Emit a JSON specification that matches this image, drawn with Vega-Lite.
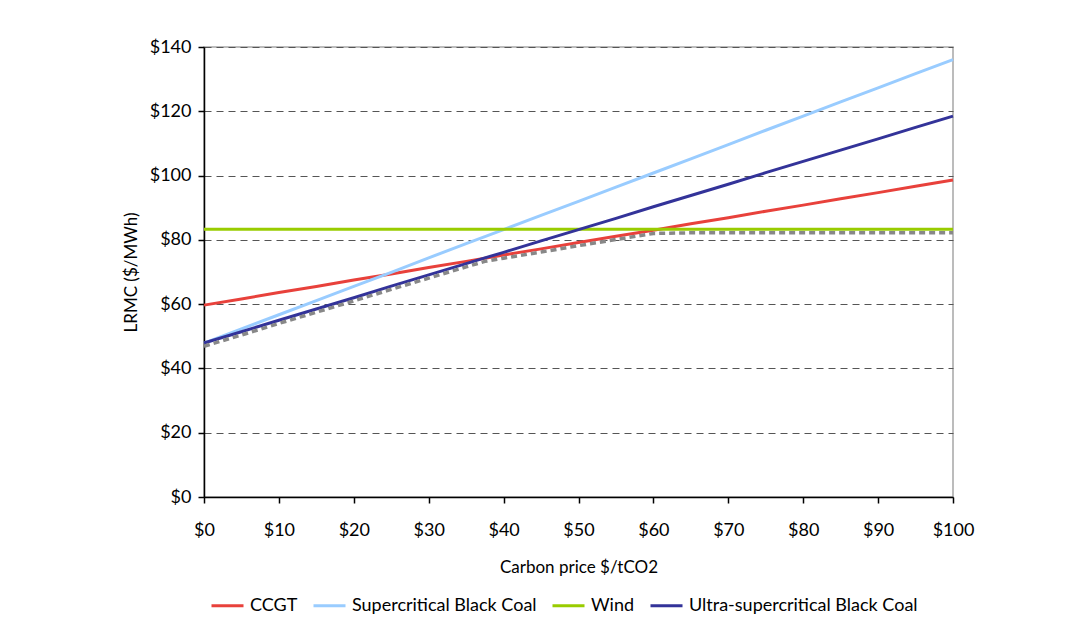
{
  "$schema": "https://vega.github.io/schema/vega-lite/v6.json",
  "autosize": "none",
  "width": 749,
  "height": 450,
  "padding": {"left": 204, "top": 47, "right": 125, "bottom": 142},
  "background": "white",
  "config": {
    "font": "Lato",
    "view": {"stroke": "#a6a6a6", "strokeWidth": 1.5},
    "axis": {"labelFont": "Lato", "titleFont": "Lato", "labelColor": "#000", "titleColor": "#000", "titleFontWeight": "normal"},
    "legend": {"labelFont": "Lato"}
  },
  "data": {
    "values": [
      {"c": 0, "CCGT": 59.7, "Supercritical Black Coal": 47.9, "Wind": 83.3, "Ultra-supercritical Black Coal": 47.9, "Min": 46.9},
      {"c": 5, "CCGT": 61.6, "Supercritical Black Coal": 52.3, "Wind": 83.3, "Ultra-supercritical Black Coal": 51.4, "Min": 50.4},
      {"c": 10, "CCGT": 63.6, "Supercritical Black Coal": 56.7, "Wind": 83.3, "Ultra-supercritical Black Coal": 55.0, "Min": 54.0},
      {"c": 15, "CCGT": 65.5, "Supercritical Black Coal": 61.1, "Wind": 83.3, "Ultra-supercritical Black Coal": 58.5, "Min": 57.5},
      {"c": 20, "CCGT": 67.5, "Supercritical Black Coal": 65.5, "Wind": 83.3, "Ultra-supercritical Black Coal": 62.0, "Min": 61.0},
      {"c": 25, "CCGT": 69.4, "Supercritical Black Coal": 69.9, "Wind": 83.3, "Ultra-supercritical Black Coal": 65.6, "Min": 64.6},
      {"c": 30, "CCGT": 71.4, "Supercritical Black Coal": 74.4, "Wind": 83.3, "Ultra-supercritical Black Coal": 69.1, "Min": 68.1},
      {"c": 35, "CCGT": 73.3, "Supercritical Black Coal": 78.8, "Wind": 83.3, "Ultra-supercritical Black Coal": 72.6, "Min": 71.6},
      {"c": 37.5, "CCGT": 74.3, "Supercritical Black Coal": 81.0, "Wind": 83.3, "Ultra-supercritical Black Coal": 74.4, "Min": 73.3},
      {"c": 40, "CCGT": 75.3, "Supercritical Black Coal": 83.2, "Wind": 83.3, "Ultra-supercritical Black Coal": 76.1, "Min": 74.3},
      {"c": 45, "CCGT": 77.2, "Supercritical Black Coal": 87.6, "Wind": 83.3, "Ultra-supercritical Black Coal": 79.7, "Min": 76.2},
      {"c": 50, "CCGT": 79.2, "Supercritical Black Coal": 92.0, "Wind": 83.3, "Ultra-supercritical Black Coal": 83.2, "Min": 78.2},
      {"c": 55, "CCGT": 81.1, "Supercritical Black Coal": 96.4, "Wind": 83.3, "Ultra-supercritical Black Coal": 86.7, "Min": 80.1},
      {"c": 60, "CCGT": 83.0, "Supercritical Black Coal": 100.8, "Wind": 83.3, "Ultra-supercritical Black Coal": 90.3, "Min": 82.0},
      {"c": 65, "CCGT": 85.0, "Supercritical Black Coal": 105.2, "Wind": 83.3, "Ultra-supercritical Black Coal": 93.8, "Min": 82.2},
      {"c": 70, "CCGT": 86.9, "Supercritical Black Coal": 109.6, "Wind": 83.3, "Ultra-supercritical Black Coal": 97.3, "Min": 82.2},
      {"c": 75, "CCGT": 88.9, "Supercritical Black Coal": 114.1, "Wind": 83.3, "Ultra-supercritical Black Coal": 100.9, "Min": 82.2},
      {"c": 80, "CCGT": 90.8, "Supercritical Black Coal": 118.5, "Wind": 83.3, "Ultra-supercritical Black Coal": 104.4, "Min": 82.2},
      {"c": 85, "CCGT": 92.8, "Supercritical Black Coal": 122.9, "Wind": 83.3, "Ultra-supercritical Black Coal": 107.9, "Min": 82.2},
      {"c": 90, "CCGT": 94.7, "Supercritical Black Coal": 127.3, "Wind": 83.3, "Ultra-supercritical Black Coal": 111.4, "Min": 82.2},
      {"c": 95, "CCGT": 96.7, "Supercritical Black Coal": 131.7, "Wind": 83.3, "Ultra-supercritical Black Coal": 115.0, "Min": 82.2},
      {"c": 100, "CCGT": 98.6, "Supercritical Black Coal": 136.1, "Wind": 83.3, "Ultra-supercritical Black Coal": 118.5, "Min": 82.2}
    ]
  },
  "encoding": {
    "x": {
      "field": "c", "type": "quantitative",
      "scale": {"domain": [0, 100], "nice": false},
      "axis": {
        "title": "Carbon price $/tCO2", "titleFontSize": 17, "titlePadding": 20,
        "values": [0, 10, 20, 30, 40, 50, 60, 70, 80, 90, 100],
        "format": "$.0f", "labelFontSize": 18, "labelPadding": 18,
        "grid": false, "domainColor": "#000", "domainWidth": 1.5,
        "tickColor": "#000", "tickSize": 6, "tickWidth": 1.5, "labelFlush": false
      }
    }
  },
  "layer": [
    {
      "transform": [{"fold": ["CCGT", "Supercritical Black Coal", "Wind", "Ultra-supercritical Black Coal"], "as": ["series", "v"]}],
      "mark": {"type": "line", "strokeWidth": 3},
      "encoding": {
        "y": {
          "field": "v", "type": "quantitative",
          "scale": {"domain": [0, 140], "nice": false},
          "axis": {
            "title": "LRMC ($/MWh)", "titleFontSize": 17, "titlePadding": 9,
            "values": [0, 20, 40, 60, 80, 100, 120, 140],
            "format": "$.0f", "labelFontSize": 18, "labelPadding": 7,
            "grid": true, "gridColor": "#555", "gridDash": [7, 5], "gridWidth": 1,
            "domainColor": "#000", "domainWidth": 1.5,
            "tickColor": "#000", "tickSize": 6, "tickWidth": 1.5
          }
        },
        "color": {
          "field": "series", "type": "nominal",
          "scale": {
            "domain": ["CCGT", "Supercritical Black Coal", "Wind", "Ultra-supercritical Black Coal"],
            "range": ["#e8413b", "#99ccff", "#99cc00", "#333399"]
          },
          "legend": {
            "title": null, "orient": "none", "direction": "horizontal",
            "legendX": 6, "legendY": 541,
            "symbolType": "stroke", "symbolSize": 1024, "symbolStrokeWidth": 3,
            "labelFontSize": 18, "labelOffset": 5, "columnPadding": 9,
            "labelColor": "#000", "labelLimit": 0
          }
        }
      }
    },
    {
      "mark": {"type": "line", "strokeWidth": 3.5, "color": "#888888", "strokeDash": [6, 4]},
      "encoding": {"y": {"field": "Min", "type": "quantitative"}}
    }
  ]
}
